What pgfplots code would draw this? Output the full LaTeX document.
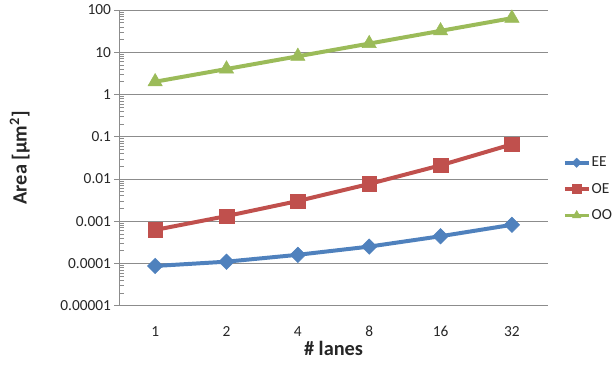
\documentclass[border=0pt]{standalone}
\usepackage{fontspec}
\setmainfont{Carlito}
\usepackage{pgfplots}
\pgfplotsset{compat=1.18}
\definecolor{cEE}{HTML}{4F81BD}
\definecolor{cOE}{HTML}{C0504D}
\definecolor{cOO}{HTML}{9BBB59}
\definecolor{gridc}{HTML}{8C8C8C}
\begin{document}
\begin{tikzpicture}
\path (0,0) rectangle (613bp,374bp);
\begin{axis}[
  at={(120bp,67bp)}, anchor=south west,
  scale only axis, width=430bp, height=297bp,
  ymode=log, ymin=1e-5, ymax=100,
  xmin=0.5, xmax=6.5,
  axis x line*=bottom, axis y line*=left,
  axis line style={gridc, line width=0.8bp, -},
  xtick={1,2,3,4,5,6}, xticklabels={1,2,4,8,16,32},
  ytick={1e-5,1e-4,1e-3,1e-2,1e-1,1,10,100},
  yticklabels={0.00001,0.0001,0.001,0.01,0.1,1,10,100},
  /pgf/number format/assume math mode=true,
  x tick style={draw=none},
  ymajorgrids, major grid style={gridc, line width=0.8bp},
  tick align=outside,
  major tick length=5bp, minor tick length=5bp,
  y tick style={gridc, line width=0.6bp},
  minor y tick style={xshift=5bp, gridc, line width=0.5bp},
  tick label style={font=\fontsize{15.5}{18}\selectfont, text=black!85},
  xticklabel style={anchor=center, yshift=-21bp},
  yticklabel style={anchor=east},
  xlabel={\bfseries \# lanes},
  ylabel={\bfseries Area [µm\textsuperscript{2}]},
  label style={font=\fontsize{20.5}{24}\selectfont, text=black!85},
  xlabel style={at={(axis description cs:0.5,-0.145)}, anchor=center},
  ylabel style={at={(axis description cs:-0.233,0.5)}, anchor=center},
  legend style={at={(1.035,0.394)}, anchor=west, draw=none, fill=none,
    font=\fontsize{15.5}{18}\selectfont, text=black!85,
    row sep=13bp, inner sep=0pt, nodes={inner sep=1bp}},
  legend cell align=left,
  legend image code/.code={%
    \draw[mark repeat=2,mark phase=2,#1,every mark/.append style={scale=0.6}]
      plot coordinates {(0bp,0bp)(12bp,0bp)(24bp,0bp)};},
  every axis plot/.append style={line width=4bp},
]
\addplot[cEE, mark=square*, mark size=5.5bp, mark options={rotate=45, line width=0.5bp}]
  coordinates {(1,0.000087)(2,0.00011)(3,0.00016)(4,0.00025)(5,0.00044)(6,0.00082)};
\addlegendentry{EE}
\addplot[cOE, mark=square*, mark size=7.3bp, mark options={line width=0.5bp}]
  coordinates {(1,0.00062)(2,0.00132)(3,0.003)(4,0.0076)(5,0.021)(6,0.066)};
\addlegendentry{OE}
\addplot[cOO, mark=triangle*, mark size=8.3bp, mark options={line width=0.5bp}]
  coordinates {(1,2)(2,4)(3,8)(4,16)(5,32)(6,64)};
\addlegendentry{OO}
\end{axis}
\end{tikzpicture}
\end{document}
